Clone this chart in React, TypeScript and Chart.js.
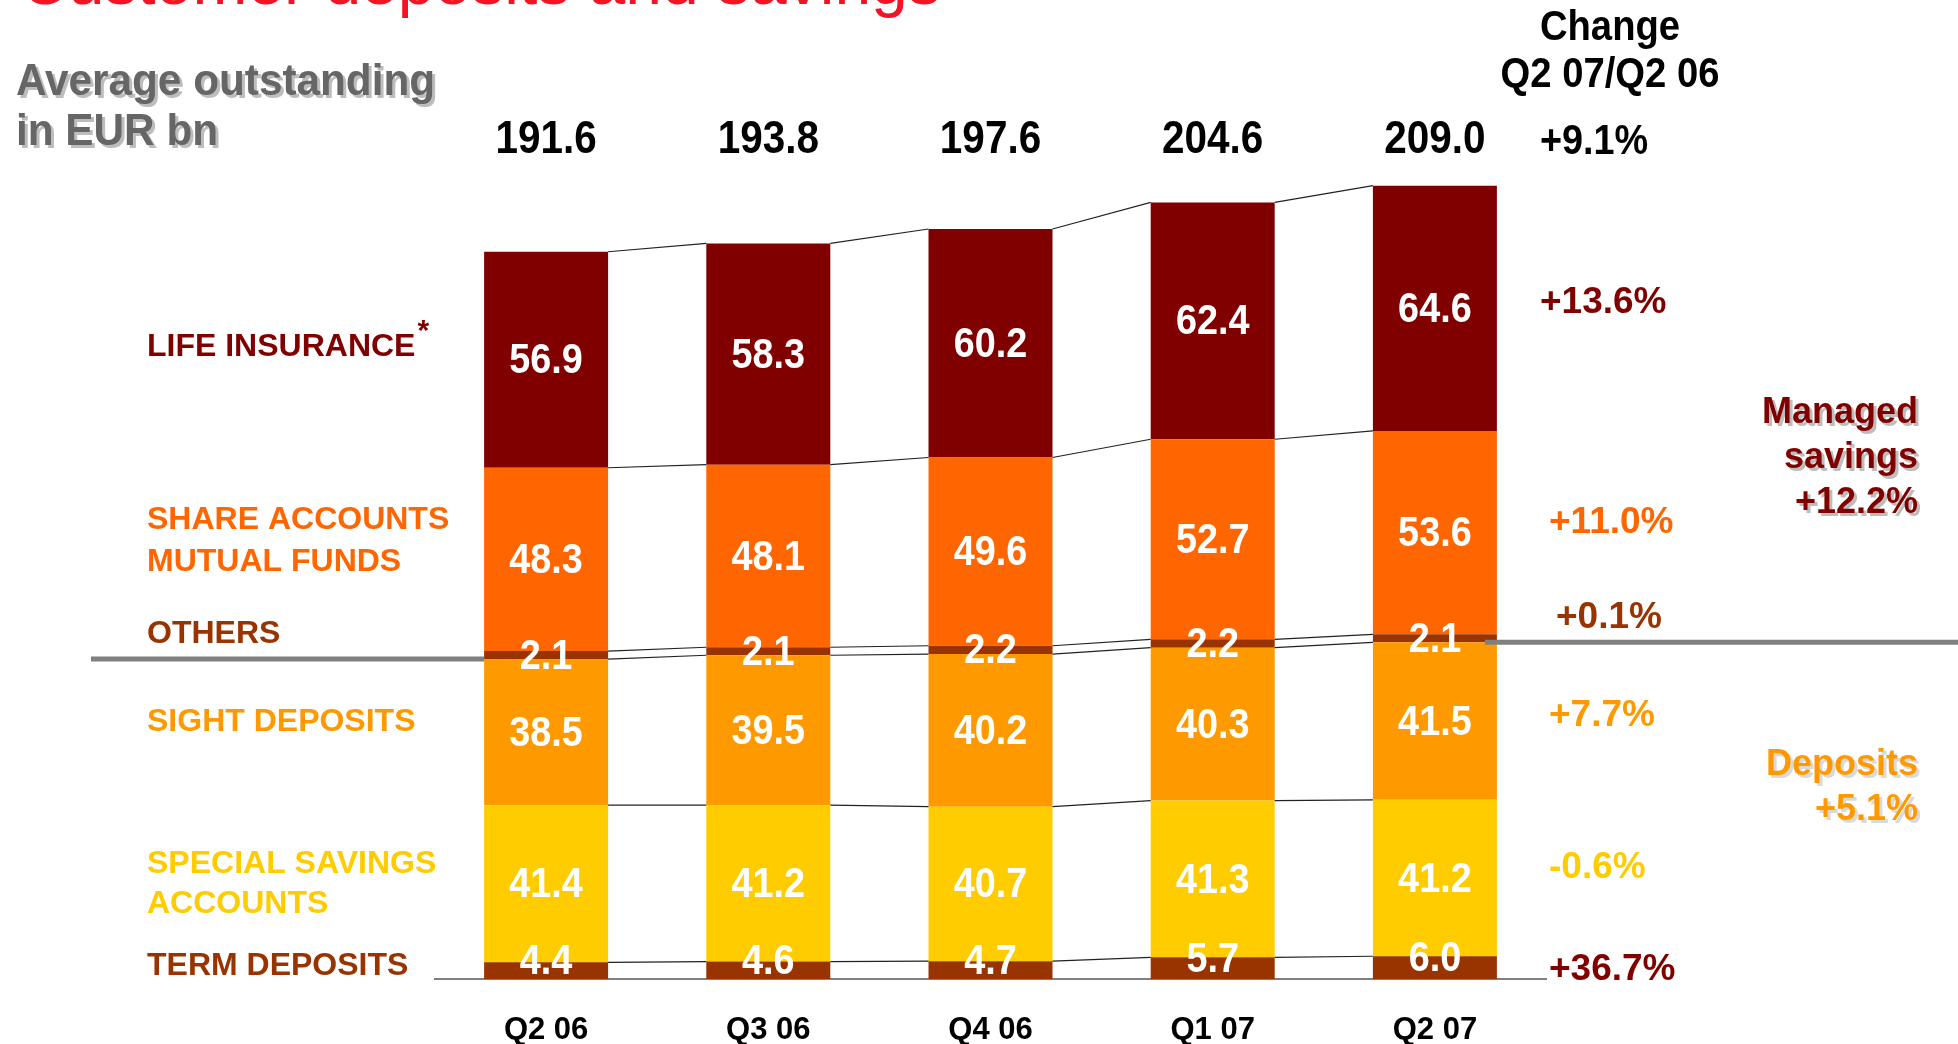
import React, { useEffect, useRef } from 'react';
import { Chart, registerables } from 'chart.js';

Chart.register(...registerables);

// ---------- data ----------
const categories = ['Q2 06', 'Q3 06', 'Q4 06', 'Q1 07', 'Q2 07'];
const termDeposits = [4.4, 4.6, 4.7, 5.7, 6.0];
const specialSavings = [41.4, 41.2, 40.7, 41.3, 41.2];
const sightDeposits = [38.5, 39.5, 40.2, 40.3, 41.5];
const others = [2.1, 2.1, 2.2, 2.2, 2.1];
const shareAccounts = [48.3, 48.1, 49.6, 52.7, 53.6];
const lifeInsurance = [56.9, 58.3, 60.2, 62.4, 64.6];
const totals = ['191.6', '193.8', '197.6', '204.6', '209.0'];
// change Q2 07 / Q2 06, same order as series (bottom to top)
const seriesChanges = ['+36.7%', '-0.6%', '+7.7%', '+0.1%', '+11.0%', '+13.6%'];
const totalChange = '+9.1%';
const managedSavingsChange = '+12.2%';
const depositsChange = '+5.1%';

// ---------- styling ----------
const FONT = "'Liberation Sans', Arial, Helvetica, sans-serif";
const C_LIFE = '#800000';
const C_SHARE = '#FF6600';
const C_OTHERS = '#993300';
const C_SIGHT = '#FF9900';
const C_SPECIAL = '#FFCC00';
const C_TERM = '#993300';
const seriesColors = [C_TERM, C_SPECIAL, C_SIGHT, C_OTHERS, C_SHARE, C_LIFE];
const changeColors = ['#800000', C_SPECIAL, C_SIGHT, C_OTHERS, C_SHARE, C_LIFE];
const changeDy = [2, -10, -5, -21, -10, -6];
const changeX = [1549, 1549, 1549, 1556, 1549, 1540];

function txt(
  ctx: CanvasRenderingContext2D,
  s: string,
  x: number,
  y: number,
  size: number,
  color: string,
  align: CanvasTextAlign = 'left',
  bold = true,
  shadow: string | null = null,
  sx = 1
) {
  ctx.save();
  ctx.translate(x, y);
  ctx.scale(sx, 1);
  ctx.font = `${bold ? 'bold ' : ''}${size}px ${FONT}`;
  ctx.textAlign = align;
  ctx.textBaseline = 'middle';
  if (shadow) {
    ctx.fillStyle = shadow;
    ctx.fillText(s, 3 / sx, 3);
  }
  ctx.fillStyle = color;
  ctx.fillText(s, 0, 0);
  ctx.restore();
}

const decorPlugin = {
  id: 'decor',
  afterDatasetsDraw(chart: any) {
    const ctx: CanvasRenderingContext2D = chart.ctx;
    const metas = chart.data.datasets.map((_: any, i: number) => chart.getDatasetMeta(i));
    const props = metas.map((m: any) =>
      m.data.map((el: any) => el.getProps(['x', 'y', 'base', 'width'], true))
    );

    // connector lines between bars at every segment boundary
    ctx.save();
    ctx.strokeStyle = '#222222';
    ctx.lineWidth = 1.2;
    for (let d = 0; d < props.length; d++) {
      for (let i = 0; i < props[d].length - 1; i++) {
        const a = props[d][i];
        const b = props[d][i + 1];
        ctx.beginPath();
        ctx.moveTo(a.x + a.width / 2, a.y);
        ctx.lineTo(b.x - b.width / 2, b.y);
        ctx.stroke();
      }
    }
    ctx.restore();

    // gray divider between deposits and managed savings (top of sight deposits)
    const first = props[2][0];
    const last = props[2][props[2].length - 1];
    ctx.save();
    ctx.strokeStyle = '#808080';
    ctx.lineWidth = 5;
    ctx.beginPath();
    ctx.moveTo(91, first.y);
    ctx.lineTo(first.x - first.width / 2, first.y);
    ctx.stroke();
    ctx.beginPath();
    ctx.moveTo(last.x + last.width / 2 - 12, last.y);
    ctx.lineTo(1958, last.y);
    ctx.stroke();
    ctx.restore();

    // values inside segments
    for (let d = 0; d < props.length; d++) {
      const values = chart.data.datasets[d].data;
      for (let i = 0; i < props[d].length; i++) {
        const p = props[d][i];
        const yc = (p.y + p.base) / 2 + (d === 0 ? -8 : 2);
        txt(ctx, Number(values[i]).toFixed(1), p.x, yc, 42, '#FFFFFF', 'center', true, null, 0.9);
      }
    }

    // totals above bars
    for (let i = 0; i < totals.length; i++) {
      txt(ctx, totals[i], props[0][i].x, 140, 46, '#000000', 'center', true, null, 0.88);
    }

    // title (cut off at the top)
    ctx.save();
    ctx.font = `66px ${FONT}`;
    ctx.fillStyle = '#F21424';
    ctx.textAlign = 'left';
    ctx.textBaseline = 'alphabetic';
    ctx.fillText('Customer deposits and savings', 20, 4);
    ctx.restore();

    // unit label
    txt(ctx, 'Average outstanding', 16, 83, 45, '#666666', 'left', true, '#BDBDBD', 0.94);
    txt(ctx, 'in EUR bn', 16, 133, 45, '#666666', 'left', true, '#BDBDBD', 0.94);

    // change header
    txt(ctx, 'Change', 1610, 28, 42, '#000000', 'center', true, null, 0.91);
    txt(ctx, 'Q2 07/Q2 06', 1610, 75, 42, '#000000', 'center', true, null, 0.91);
    txt(ctx, totalChange, 1540, 142, 42, '#000000', 'left', true, null, 0.9);

    // left series labels
    txt(ctx, 'LIFE INSURANCE', 147, 347, 32, C_LIFE);
    ctx.save();
    ctx.font = `bold 32px ${FONT}`;
    const w = ctx.measureText('LIFE INSURANCE').width;
    ctx.restore();
    txt(ctx, '*', 147 + w + 2, 332, 30, C_LIFE);
    txt(ctx, 'SHARE ACCOUNTS', 147, 520, 32, C_SHARE);
    txt(ctx, 'MUTUAL FUNDS', 147, 562, 32, C_SHARE);
    txt(ctx, 'OTHERS', 147, 634, 32, C_OTHERS);
    txt(ctx, 'SIGHT DEPOSITS', 147, 722, 32, C_SIGHT);
    txt(ctx, 'SPECIAL SAVINGS', 147, 864, 32, C_SPECIAL);
    txt(ctx, 'ACCOUNTS', 147, 904, 32, C_SPECIAL);
    txt(ctx, 'TERM DEPOSITS', 147, 966, 32, C_TERM);

    // right change labels
    const lastIdx = props[0].length - 1;
    for (let d = 0; d < props.length; d++) {
      const p = props[d][lastIdx];
      const yc = (p.y + p.base) / 2 + changeDy[d];
      txt(ctx, seriesChanges[d], changeX[d], yc, 37, changeColors[d], 'left');
    }

    // group summaries
    txt(ctx, 'Managed', 1918, 413, 36, C_LIFE, 'right', true, '#BDBDBD');
    txt(ctx, 'savings', 1918, 458, 36, C_LIFE, 'right', true, '#BDBDBD');
    txt(ctx, managedSavingsChange, 1918, 503, 36, C_LIFE, 'right', true, '#BDBDBD');
    txt(ctx, 'Deposits', 1918, 765, 36, C_SIGHT, 'right', true, '#D9D9D9');
    txt(ctx, depositsChange, 1918, 810, 36, C_SIGHT, 'right', true, '#D9D9D9');
  },
};

export default function App() {
  const ref = useRef<HTMLCanvasElement | null>(null);

  useEffect(() => {
    if (!ref.current) return;
    const seriesData = [termDeposits, specialSavings, sightDeposits, others, shareAccounts, lifeInsurance];
    const seriesNames = ['Term deposits', 'Special savings accounts', 'Sight deposits', 'Others', 'Share accounts / mutual funds', 'Life insurance'];
    const chart = new Chart(ref.current, {
      type: 'bar',
      data: {
        labels: categories,
        datasets: seriesData.map((d, i) => ({
          label: seriesNames[i],
          data: d,
          backgroundColor: seriesColors[i],
          borderWidth: 0,
          barPercentage: 0.558,
          categoryPercentage: 1,
        })),
      },
      options: {
        responsive: false,
        maintainAspectRatio: false,
        devicePixelRatio: 1,
        animation: false,
        layout: { padding: { left: 435, right: 412, top: 106, bottom: 0 } },
        plugins: { legend: { display: false }, tooltip: { enabled: false } },
        scales: {
          x: {
            stacked: true,
            offset: true,
            grid: { display: false },
            border: { display: true, color: '#808080', width: 2 },
            ticks: {
              color: '#000000',
              font: { family: FONT, size: 31, weight: 'bold' },
              padding: 25,
            },
            afterFit: (scale: any) => {
              scale.height = 65;
            },
          },
          y: {
            stacked: true,
            display: false,
            min: 0,
            max: 230,
          },
        },
      },
      plugins: [decorPlugin],
    });
    return () => chart.destroy();
  }, []);

  return (
    <div style={{ position: 'absolute', left: 0, top: 0, width: 1958, height: 1044, background: '#FFFFFF' }}>
      <canvas ref={ref} width={1958} height={1044} style={{ display: 'block' }} />
    </div>
  );
}
